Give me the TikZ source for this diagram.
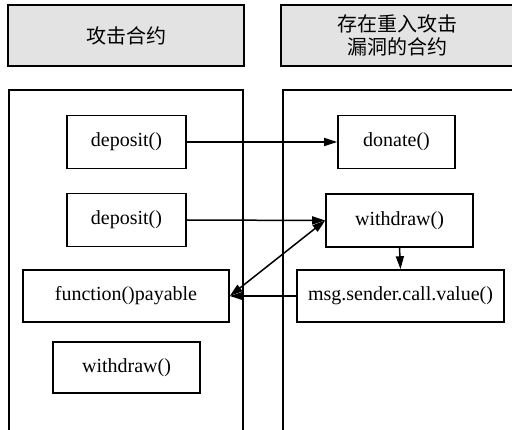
\documentclass[tikz,border=0pt]{standalone}
\usepackage{fontspec}
\setmainfont{Liberation Serif}
\newfontfamily\cjk{Noto Sans CJK SC}
\usetikzlibrary{arrows.meta}
\begin{document}
\begin{tikzpicture}[x=1pt,y=-1pt,
  font=\fontsize{20}{23}\selectfont,
  header/.style={draw=black,line width=2.2pt,fill=black!11,inner sep=0pt,
    minimum height=61pt,align=center,font=\fontsize{20}{23}\selectfont\cjk},
  frame/.style={draw=black,line width=1.6pt,inner sep=0pt},
  fnbox/.style={draw=black,line width=1.6pt,inner sep=0pt,minimum height=53pt},
  tip/.style={Triangle[length=13pt,width=8pt]},
  link/.style={line width=1.5pt,-{Triangle[length=13pt,width=8pt]}}]
\useasboundingbox (0,0) rectangle (512,430);

% column titles
\node[header,minimum width=236pt] (hl) at (126,35.5) {攻击合约};
\node[header,minimum width=233pt] (hr) at (397.5,35.5) {存在重入攻击\\漏洞的合约};

% contract frames
\node[frame,minimum width=234pt,minimum height=350pt] (cl) at (126,265) {};
\node[frame,minimum width=237pt,minimum height=350pt] (cr) at (401.5,265) {};

% attacking contract
\node[fnbox,minimum width=119pt] (dep1) at (126.5,142) {deposit()};
\node[fnbox,minimum width=119pt] (dep2) at (126.5,220) {deposit()};
\node[fnbox,minimum width=206pt,minimum height=52pt] (fun) at (126,296) {function()payable};
\node[fnbox,minimum width=147pt,minimum height=51pt] (wdl) at (126.5,367.5) {withdraw()};

% vulnerable contract
\node[fnbox,minimum width=117pt] (don) at (396.5,142) {donate()};
\node[fnbox,minimum width=147pt] (wdr) at (399.5,220.5) {withdraw()};
\node[fnbox,minimum width=207pt,minimum height=52pt] (msg) at (400.5,296) {msg.sender.call.value()};

% calls
\draw[link] (dep1.east) -- (don.west);
\draw[link] (dep2.east) -- (wdr.west);
\draw[line width=1.5pt,{Triangle[length=13pt,width=8pt]}-{Triangle[length=13pt,width=8pt]}] (fun.east) -- (wdr.west);
\draw[link] (msg.west) -- (fun.east);
\draw[link] (wdr.south) -- (msg.north);
\end{tikzpicture}
\end{document}
